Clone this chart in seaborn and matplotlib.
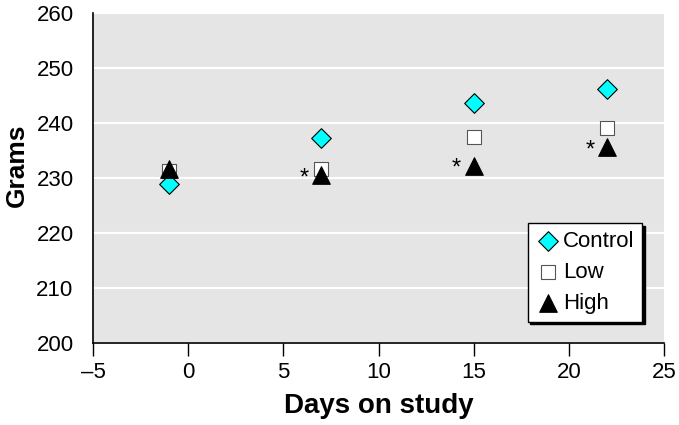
import matplotlib
matplotlib.use("Agg")
import matplotlib.pyplot as plt
import seaborn as sns
import pandas as pd

# Data
days = [-1, 7, 15, 22]
control = [228.9, 237.2, 243.6, 246.2]
low = [231.2, 231.7, 237.5, 239.1]
high = [231.6, 230.5, 232.2, 235.6]
groups = ["Control", "Low", "High"]

# asterisks (significant) next to the High points
star_x = [6.1, 14.1, 21.1]
star_y = [230.0, 231.7, 235.0]

rows = []
for g, vals in zip(groups, [control, low, high]):
    for d, v in zip(days, vals):
        rows.append({"day": d, "grams": v, "group": g})
df = pd.DataFrame(rows)

sns.set_style("white")
plt.rcParams['font.family'] = ['Liberation Sans', 'DejaVu Sans']
plt.rcParams['text.color'] = 'black'
plt.rcParams['axes.labelcolor'] = 'black'
plt.rcParams['xtick.color'] = 'black'
plt.rcParams['ytick.color'] = 'black'

fig = plt.figure(figsize=(6.79, 4.25), dpi=100)
ax = fig.add_axes([0.137, 0.193, 0.841, 0.776])
ax.set_facecolor("#e5e5e5")

markers = {"Control": "D", "Low": "s", "High": "^"}
palette = {"Control": "#00ffff", "Low": "white", "High": "black"}
sizes = {"Control": 100, "Low": 110, "High": 160}
edges = {"Control": "black", "Low": "#555555", "High": "black"}

for g in groups:
    sub = df[df["group"] == g]
    sns.scatterplot(data=sub, x="day", y="grams", marker=markers[g], color=palette[g],
                    s=sizes[g], edgecolor=edges[g], linewidth=0.8, label=g, ax=ax, zorder=3)

for x, y in zip(star_x, star_y):
    ax.text(x, y, "*", fontsize=17, ha="center", va="center", zorder=4)

ax.set_xlim(-5, 25)
ax.set_ylim(200, 260)
ax.set_xticks([-5, 0, 5, 10, 15, 20, 25])
ax.set_xticklabels(["\u20135", "0", "5", "10", "15", "20", "25"])
ax.set_yticks([200, 210, 220, 230, 240, 250, 260])
ax.grid(axis="y", color="white", linewidth=1.5)
ax.set_axisbelow(True)
for s in ["top", "right"]:
    ax.spines[s].set_visible(False)
ax.spines["left"].set_color("black")
ax.spines["bottom"].set_color("black")
ax.spines["left"].set_linewidth(1.2)
ax.spines["bottom"].set_linewidth(1.2)
ax.tick_params(axis="x", direction="out", length=9, width=1, labelsize=16, pad=5, bottom=True)
ax.tick_params(axis="y", length=0, labelsize=16, pad=14)

ax.set_xlabel("Days on study", fontsize=20, fontweight="bold", labelpad=7)
ax.set_ylabel("Grams", fontsize=19, fontweight="bold")
ax.yaxis.set_label_coords(-0.112, 0.54)

leg = ax.legend(loc="lower right", bbox_to_anchor=(0.962, 0.065), fontsize=16, frameon=True,
                fancybox=False, shadow={"color": "black", "alpha": 1}, handletextpad=0.15,
                borderpad=0.35, labelspacing=0.45, handlelength=1.1, borderaxespad=0)
leg.get_frame().set_edgecolor("black")
leg.get_frame().set_linewidth(1)
leg.get_frame().set_alpha(1)

fig.savefig("out.png", dpi=100)
